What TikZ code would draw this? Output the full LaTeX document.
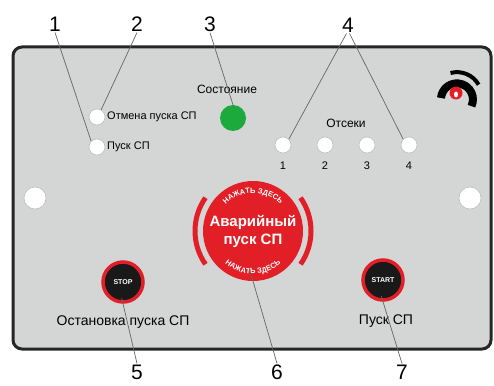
\documentclass[tikz,border=0pt]{standalone}
\usepackage{fontspec}
\setmainfont{Liberation Sans}
\usetikzlibrary{calc}
\usetikzlibrary{decorations.text}

\definecolor{panelgray}{RGB}{212,213,213}
\definecolor{btnred}{RGB}{226,30,38}
\definecolor{ledgreen}{RGB}{28,170,60}

\begin{document}
\begin{tikzpicture}[x=1pt,y=1pt]

% Define styles
\tikzset{
    num/.style={font=\fontsize{21}{21}\selectfont, inner sep=1pt},
    leader/.style={draw=black!60, line width=0.7pt},
    lamp/.style={circle, fill=white, draw=black!25, line width=0.6pt, minimum size=16pt, inner sep=0pt},
    lbl/.style={font=\fontsize{#1}{#1}\selectfont, inner sep=0pt},
    pushbtn/.style={circle, fill=black!90, draw=btnred, line width=3.5pt, minimum size=40pt, inner sep=0pt,
        text=white, font=\fontsize{7}{7}\selectfont\bfseries},
    bracket/.style={draw=btnred, line width=5pt},
    btntext/.style={decorate, decoration={text along path, text align=center,
        text={|\fontsize{7.5}{7.5}\selectfont\bfseries\color{white}|#1}}}
}

% zeige den Teil, der durch die Graphik benutzt wird
\useasboundingbox (0,0) rectangle (494,-385);

% front panel
\draw[line width=3pt, draw=black!85, fill=panelgray, rounded corners=9pt] (13,-47) rectangle (491,-349);

% lamps top left
\node[lamp] (LEDA) at (97,-117) {};
\node[lbl=11, anchor=west] (LBLA) at (107,-117) {Отмена пуска СП};
\node[lamp] (LEDB) at (97,-147) {};
\node[lbl=11, anchor=west] (LBLB) at (107,-147) {Пуск СП};

% state lamp
\node[lbl=12] (STATELBL) at (227,-89) {Состояние};
\node[circle, fill=ledgreen, minimum size=26pt, inner sep=0pt] (STATE) at (233,-118) {};

% compartment lamps
\node[lbl=12] (BAYLBL) at (346,-123) {Отсеки};
\foreach \i/\x in {1/283,2/325,3/367,4/409} {
    \node[lamp] (BAY\i) at (\x,-145) {};
    \node[lbl=11] (BAYNUM\i) at (\x,-166) {\i};
}

% mounting holes
\node[lamp, minimum size=22pt] (HOLEL) at (35,-198) {};
\node[lamp, minimum size=22pt] (HOLER) at (470,-198) {};

% logo
\draw[line width=8pt] (441,-98) arc[start angle=175, end angle=-25, radius=16];
\draw[line width=4pt] (450.5,-73) arc[start angle=105, end angle=30, radius=25];
\fill[btnred] (456,-93) circle (6.5);
\fill[white] (456,-94.5) ellipse (2 and 3);

%position of emergency button
\coordinate (C) at (253,-231);

% emergency button
\draw[bracket] ($(C)+(145:58)$) arc[start angle=145, end angle=215, radius=58];
\draw[bracket] ($(C)+(-35:58)$) arc[start angle=-35, end angle=35, radius=58];
\node[circle, fill=btnred, minimum size=100pt, inner sep=0pt, text=white, align=center,
    font=\fontsize{15}{18}\selectfont\bfseries] (BTN) at (C) {Аварийный\\пуск СП};
\path[btntext=НАЖАТЬ ЗДЕСЬ] ($(C)+(150:38)$) arc[start angle=150, end angle=30, radius=38];
\path[btntext=НАЖАТЬ ЗДЕСЬ] ($(C)+(210:43)$) arc[start angle=210, end angle=330, radius=43];

% stop and start buttons
\node[pushbtn] (STOP) at (123,-282) {STOP};
\node[lbl=14] (STOPLBL) at (123,-322) {Остановка пуска СП};
\node[pushbtn] (START) at (383,-280) {START};
\node[lbl=14] (STARTLBL) at (386,-321) {Пуск СП};

% numbers
\node[num] (N1) at (55,-24) {1};
\node[num] (N2) at (137,-24) {2};
\node[num] (N3) at (210,-24) {3};
\node[num] (N4) at (348,-25) {4};
\node[num] (N5) at (137,-372) {5};
\node[num] (N6) at (277,-372) {6};
\node[num] (N7) at (402,-372) {7};

% leader lines
\draw[leader] (N1.south) -- (LEDB.north west);
\draw[leader] (N2.south) -- (LEDA.60);
\draw[leader, shorten >=-3pt] (N3.south) -- (STATE.north);
\draw[leader] (N4.-100) -- (BAY1.north east);
\draw[leader] (N4.-80) -- (BAY4.north west);
\draw[leader, shorten >=-6pt] (N5.north) -- (STOP.south);
\draw[leader, shorten >=-14pt] (N6.north) -- (BTN.south);
\draw[leader, shorten >=-6pt] (N7.north) -- (START.south);

\end{tikzpicture}
\end{document}
